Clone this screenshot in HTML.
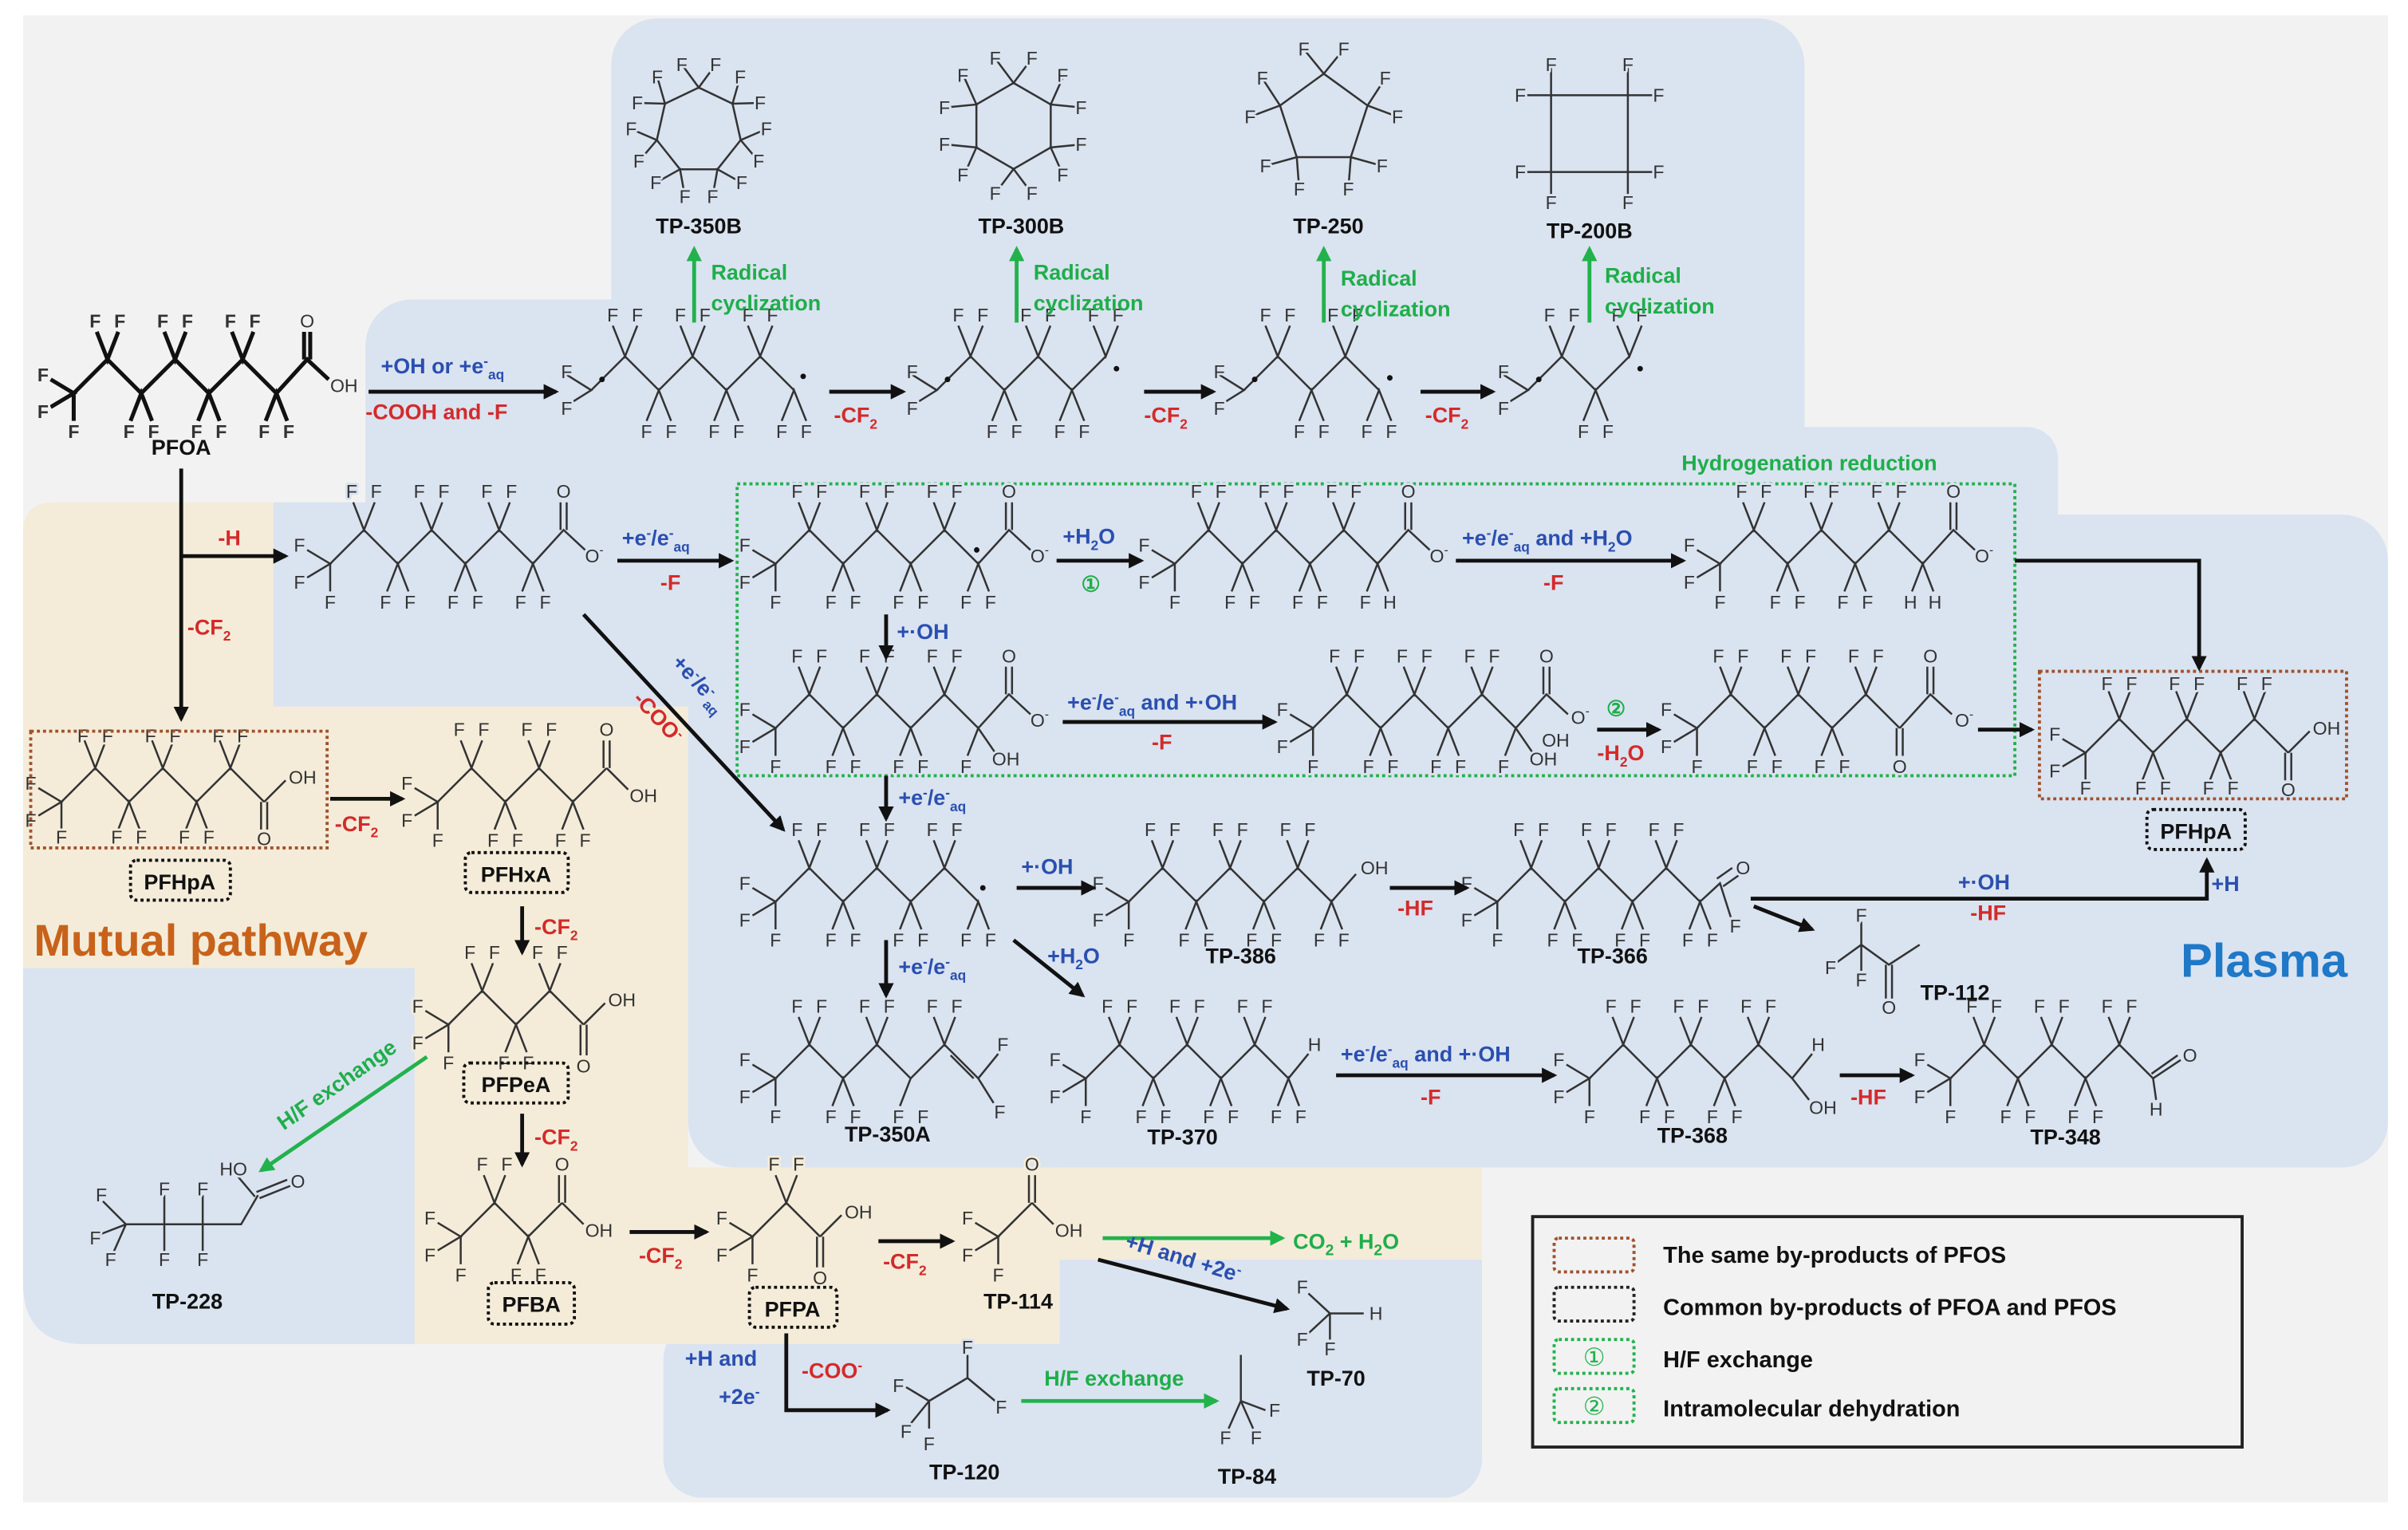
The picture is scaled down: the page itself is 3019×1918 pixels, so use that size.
<!DOCTYPE html>
<html><head><meta charset="utf-8"><style>
html,body{margin:0;padding:0;background:#fff}
svg{display:block}
.m path{fill:none;stroke:#333;stroke-width:1.3}
.m text{font-family:"Liberation Sans",sans-serif;font-size:12px;text-anchor:middle;dominant-baseline:central;fill:#333;paint-order:stroke;stroke-width:3;stroke-linejoin:round}
.bb text{stroke:#dae3f0}.yy text{stroke:#f4ecd9}.gg text{stroke:#f2f2f2}
.lab{font-family:"Liberation Sans",sans-serif;font-weight:bold;font-size:14px;fill:#111;text-anchor:middle}
.t{font-family:"Liberation Sans",sans-serif;font-weight:bold;font-size:14px}
.bl{fill:#2a4fb0}.rd{fill:#d42a2a}.gr{fill:#1fae4a}
.ar{stroke:#111;stroke-width:2.5;fill:none}
.ag{stroke:#22b24c;stroke-width:2.5;fill:none}
.box{fill:none;stroke:#111;stroke-width:2;stroke-dasharray:2 2}
</style></head><body>
<svg width="3019" height="1918" viewBox="0 0 1568 996" preserveAspectRatio="none" xmlns="http://www.w3.org/2000/svg">
<defs>
<marker id="a" viewBox="0 0 10 10" refX="8" refY="5" markerWidth="4" markerHeight="4" orient="auto"><path d="M0,0L10,5L0,10z" fill="#111"/></marker>
<marker id="g" viewBox="0 0 10 10" refX="8" refY="5" markerWidth="4" markerHeight="4" orient="auto"><path d="M0,0L10,5L0,10z" fill="#22b24c"/></marker>
</defs>
<rect x="15" y="10" width="1540" height="968" fill="#f2f2f2"/>
<g fill="#dae3f0">
<rect x="398" y="12" width="777" height="300" rx="30"/>
<rect x="238" y="195" width="937" height="200" rx="30"/>
<rect x="448" y="278" width="892" height="200" rx="20"/>
<rect x="448" y="335" width="1107" height="425" rx="30"/>
<rect x="178" y="327" width="300" height="133"/>
<path d="M15,630H270V875H55Q15,875 15,835Z"/>
<rect x="690" y="815" width="275" height="80"/>
<rect x="432" y="860" width="533" height="115" rx="25"/>
</g>
<g fill="#f4ecd9">
<path d="M35,327H178V460H15V347Q15,327 35,327Z"/>
<rect x="15" y="460" width="433" height="170"/>
<rect x="270" y="460" width="178" height="415"/>
<rect x="270" y="760" width="695" height="60"/>
<rect x="270" y="760" width="420" height="115"/>
</g>

<g class="m gg" transform="translate(48,256)">
<path style="stroke-width:2.6;stroke:#111" d="M0,0L22,-22L44,0L66,-22L88,0L110,-22L132,0M15,-40L22,-22L29,-40M59,-40L66,-22L73,-40M103,-40L110,-22L117,-40M37,18L44,0L51,18M81,18L88,0L95,18M125,18L132,0L139,18M-15,-9L0,0L-15,9M0,0L0,18M132,0L152,-22L166,-9M150,-22L150,-40M154,-22L154,-40"/>
<text x="14 30 58 74 102 118" y="-47" font-weight="bold">FFFFFF</text>
<text x="36 52 80 96 124 140" y="25" font-weight="bold">FFFFFF</text>
<text x="-20 -20 0" y="-12 12 25" font-weight="bold">FFF</text>
<text x="152" y="-47">O</text><text x="176" y="-5">OH</text>
</g>
<text class="lab" x="118" y="296">PFOA</text>

<g class="m bb">
<path d="M385,254L407,232L429,254L451,232L473,254L495,232L517,254M399,212L407,232L415,212M443,212L451,232L459,212M487,212L495,232L503,212M421,274L429,254L437,274M465,274L473,254L481,274M509,274L517,254L525,274M369,244L385,254L369,264"/>
<text x="399 415 443 459 487 503" y="205">FFFFFF</text><text x="421 437 465 481 509 525" y="281">FFFFFF</text><text x="369 369" y="242 266">FF</text>
<path d="M610,254L632,232L654,254L676,232L698,254L720,232M624,212L632,232L640,212M668,212L676,232L684,212M712,212L720,232L728,212M646,274L654,254L662,274M690,274L698,254L706,274M594,244L610,254L594,264"/>
<text x="624 640 668 684 712 728" y="205">FFFFFF</text><text x="646 662 690 706" y="281">FFFF</text><text x="594 594" y="242 266">FF</text>
<path d="M810,254L832,232L854,254L876,232L898,254M824,212L832,232L840,212M868,212L876,232L884,212M846,274L854,254L862,274M890,274L898,254L906,274M794,244L810,254L794,264"/>
<text x="824 840 868 884" y="205">FFFF</text><text x="846 862 890 906" y="281">FFFF</text><text x="794 794" y="242 266">FF</text>
<path d="M995,254L1017,232L1039,254L1061,232M1009,212L1017,232L1025,212M1053,212L1061,232L1069,212M1031,274L1039,254L1047,274M979,244L995,254L979,264"/>
<text x="1009 1025 1053 1069" y="205">FFFF</text><text x="1031 1047" y="281">FF</text><text x="979 979" y="242 266">FF</text>
</g>
<g fill="#111"><circle cx="392" cy="247" r="1.8"/><circle cx="523" cy="245" r="1.8"/><circle cx="617" cy="247" r="1.8"/><circle cx="727" cy="240" r="1.8"/><circle cx="817" cy="247" r="1.8"/><circle cx="905" cy="246" r="1.8"/><circle cx="1002" cy="247" r="1.8"/><circle cx="1068" cy="240" r="1.8"/></g>

<g class="m bb">
<path d="M455,57L477,67.5L482.3,91.2L467.2,110.2L442.8,110.2L427.7,91.2L433,67.5ZM444,42L455,57L466,42M482,50L477,67.5L495,67M499,84L482.3,91.2L494,105M483,119L467.2,110.2L464,128M446,128L442.8,110.2L427,119M416,105L427.7,91.2L411,84M415,67L433,67.5L428,50"/>
<text x="444 466 482 495 499 494 483 464 446 427 416 411 415 428" y="42 42 50 67 84 105 119 128 128 119 105 84 67 50">FFFFFFFFFFFFFF</text>
<path d="M660,54L684.2,68L684.2,96L660,110L635.8,96L635.8,68ZM648,38L660,54L672,38M692.5,49.5L684.2,68L704.4,70M704.4,94L684.2,96L692.5,114.5M672,126L660,110L648,126M627.5,114.5L635.8,96L615.6,94M615.6,70L635.8,68L627.5,49.5"/>
<text x="648 672 692 704 704 692 672 648 627 615 615 627" y="38 38 49 70 94 114 126 126 114 94 70 49">FFFFFFFFFFFF</text>
<path d="M862,48L890.5,68.7L879.6,102.3L844.4,102.3L833.5,68.7ZM849,32L862,48L875,32M902,51L890.5,68.7L910,76M900,108L879.6,102.3L878,123M846,123L844.4,102.3L824,108M814,76L833.5,68.7L822,51"/>
<text x="849 875 902 910 900 878 846 824 814 822" y="32 32 51 76 108 123 123 108 76 51">FFFFFFFFFF</text>
<path d="M1010,62H1060V112H1010ZM990,62H1010V42M1080,62H1060V42M1080,112H1060V132M990,112H1010V132"/>
<text x="990 1010 1080 1060 1080 1060 990 1010" y="62 42 62 42 112 132 112 132">FFFFFFFF</text>
</g>
<text class="lab" x="455" y="152">TP-350B</text><text class="lab" x="665" y="152">TP-300B</text><text class="lab" x="865" y="152">TP-250</text><text class="lab" x="1035" y="155">TP-200B</text>

<g class="ag" marker-end="url(#g)"><path d="M452,210V162"/><path d="M662,210V162"/><path d="M862,210V162"/><path d="M1035,210V162"/></g>
<g class="t gr"><text x="463" y="182">Radical</text><text x="463" y="202">cyclization</text>
<text x="673" y="182">Radical</text><text x="673" y="202">cyclization</text>
<text x="873" y="186">Radical</text><text x="873" y="206">cyclization</text>
<text x="1045" y="184">Radical</text><text x="1045" y="204">cyclization</text></g>

<g class="ar" marker-end="url(#a)"><path d="M240,255H362"/><path d="M540,255H588"/><path d="M745,255H790"/><path d="M925,255H972"/></g>
<text class="t bl" x="248" y="243">+OH or +e<tspan dy="-5" font-size="9">-</tspan><tspan dy="9" font-size="9">aq</tspan></text>
<text class="t rd" x="238" y="273">-COOH and -F</text>
<text class="t rd" x="543" y="275">-CF<tspan dy="4" font-size="9">2</tspan></text>
<text class="t rd" x="745" y="275">-CF<tspan dy="4" font-size="9">2</tspan></text>
<text class="t rd" x="928" y="275">-CF<tspan dy="4" font-size="9">2</tspan></text>

<rect x="480" y="315" width="832" height="190" fill="none" stroke="#22b24c" stroke-width="2" stroke-dasharray="2 2"/>
<text class="t gr" x="1095" y="306">Hydrogenation reduction</text>

<g class="m bb">
<g transform="translate(215,367)"><path d="M0,0L22,-22L44,0L66,-22L88,0L110,-22L132,0M15,-40L22,-22L29,-40M59,-40L66,-22L73,-40M103,-40L110,-22L117,-40M37,18L44,0L51,18M81,18L88,0L95,18M125,18L132,0L139,18M-15,-9L0,0L-15,9M0,0L0,18M132,0L152,-22L166,-9M150,-22L150,-40M154,-22L154,-40"/><text x="14 30 58 74 102 118" y="-47">FFFFFF</text><text x="36 52 80 96 124 140" y="25">FFFFFF</text><text x="-20 -20 0" y="-12 12 25">FFF</text><text x="152" y="-47">O</text><text x="172" y="-5">O<tspan dy="-4" font-size="8">-</tspan></text></g>
<g transform="translate(505,367)"><path d="M0,0L22,-22L44,0L66,-22L88,0L110,-22L132,0M15,-40L22,-22L29,-40M59,-40L66,-22L73,-40M103,-40L110,-22L117,-40M37,18L44,0L51,18M81,18L88,0L95,18M125,18L132,0L139,18M-15,-9L0,0L-15,9M0,0L0,18M132,0L152,-22L166,-9M150,-22L150,-40M154,-22L154,-40"/><text x="14 30 58 74 102 118" y="-47">FFFFFF</text><text x="36 52 80 96 124 140" y="25">FFFFFF</text><text x="-20 -20 0" y="-12 12 25">FFF</text><text x="152" y="-47">O</text><text x="172" y="-5">O<tspan dy="-4" font-size="8">-</tspan></text><circle cx="131" cy="-9" r="1.8" fill="#111"/></g>
<g transform="translate(765,367)"><path d="M0,0L22,-22L44,0L66,-22L88,0L110,-22L132,0M15,-40L22,-22L29,-40M59,-40L66,-22L73,-40M103,-40L110,-22L117,-40M37,18L44,0L51,18M81,18L88,0L95,18M125,18L132,0L139,18M-15,-9L0,0L-15,9M0,0L0,18M132,0L152,-22L166,-9M150,-22L150,-40M154,-22L154,-40"/><text x="14 30 58 74 102 118" y="-47">FFFFFF</text><text x="36 52 80 96 124 140" y="25">FFFFFH</text><text x="-20 -20 0" y="-12 12 25">FFF</text><text x="152" y="-47">O</text><text x="172" y="-5">O<tspan dy="-4" font-size="8">-</tspan></text></g>
<g transform="translate(1120,367)"><path d="M0,0L22,-22L44,0L66,-22L88,0L110,-22L132,0M15,-40L22,-22L29,-40M59,-40L66,-22L73,-40M103,-40L110,-22L117,-40M37,18L44,0L51,18M81,18L88,0L95,18M125,18L132,0L139,18M-15,-9L0,0L-15,9M0,0L0,18M132,0L152,-22L166,-9M150,-22L150,-40M154,-22L154,-40"/><text x="14 30 58 74 102 118" y="-47">FFFFFF</text><text x="36 52 80 96 124 140" y="25">FFFFHH</text><text x="-20 -20 0" y="-12 12 25">FFF</text><text x="152" y="-47">O</text><text x="172" y="-5">O<tspan dy="-4" font-size="8">-</tspan></text></g>
<g transform="translate(505,474)"><path d="M0,0L22,-22L44,0L66,-22L88,0L110,-22L132,0M15,-40L22,-22L29,-40M59,-40L66,-22L73,-40M103,-40L110,-22L117,-40M37,18L44,0L51,18M81,18L88,0L95,18M125,18L132,0L143,16M-15,-9L0,0L-15,9M0,0L0,18M132,0L152,-22L166,-9M150,-22L150,-40M154,-22L154,-40"/><text x="14 30 58 74 102 118" y="-47">FFFFFF</text><text x="36 52 80 96 124" y="25">FFFFF</text><text x="150" y="20">OH</text><text x="-20 -20 0" y="-12 12 25">FFF</text><text x="152" y="-47">O</text><text x="172" y="-5">O<tspan dy="-4" font-size="8">-</tspan></text></g>
<g transform="translate(855,474)"><path d="M0,0L22,-22L44,0L66,-22L88,0L110,-22L132,0M15,-40L22,-22L29,-40M59,-40L66,-22L73,-40M103,-40L110,-22L117,-40M37,18L44,0L51,18M81,18L88,0L95,18M125,18L132,0L143,16M-15,-9L0,0L-15,9M0,0L0,18M132,0L152,-22L166,-9M150,-22L150,-40M154,-22L154,-40"/><text x="14 30 58 74 102 118" y="-47">FFFFFF</text><text x="36 52 80 96 124" y="25">FFFFF</text><text x="150" y="20">OH</text><text x="158" y="8">OH</text><text x="-20 -20 0" y="-12 12 25">FFF</text><text x="152" y="-47">O</text><text x="174" y="-7">O<tspan dy="-4" font-size="8">-</tspan></text></g>
<g transform="translate(1105,474)"><path d="M0,0L22,-22L44,0L66,-22L88,0L110,-22L132,0M15,-40L22,-22L29,-40M59,-40L66,-22L73,-40M103,-40L110,-22L117,-40M37,18L44,0L51,18M81,18L88,0L95,18M130,0L130,18M134,0L134,18M-15,-9L0,0L-15,9M0,0L0,18M132,0L152,-22L166,-9M150,-22L150,-40M154,-22L154,-40"/><text x="14 30 58 74 102 118" y="-47">FFFFFF</text><text x="36 52 80 96" y="25">FFFF</text><text x="132" y="25">O</text><text x="-20 -20 0" y="-12 12 25">FFF</text><text x="152" y="-47">O</text><text x="174" y="-5">O<tspan dy="-4" font-size="8">-</tspan></text></g>
<g transform="translate(1358,490)"><path d="M0,0L22,-22L44,0L66,-22L88,0L110,-22L132,0M15,-40L22,-22L29,-40M59,-40L66,-22L73,-40M103,-40L110,-22L117,-40M37,18L44,0L51,18M81,18L88,0L95,18M-15,-9L0,0L-15,9M0,0L0,18M130,0L130,18M134,0L134,18M132,0L146,-14"/><text x="14 30 58 74 102 118" y="-45">FFFFFF</text><text x="36 52 80 96" y="23">FFFF</text><text x="-20 -20 0" y="-12 12 23">FFF</text><text x="132" y="24">O</text><text x="157" y="-16">OH</text></g>
<g transform="translate(505,587)"><path d="M0,0L22,-22L44,0L66,-22L88,0L110,-22L132,0M15,-40L22,-22L29,-40M59,-40L66,-22L73,-40M103,-40L110,-22L117,-40M37,18L44,0L51,18M81,18L88,0L95,18M125,18L132,0L139,18M-15,-9L0,0L-15,9M0,0L0,18"/><text x="14 30 58 74 102 118" y="-47">FFFFFF</text><text x="36 52 80 96 124 140" y="25">FFFFFF</text><text x="-20 -20 0" y="-12 12 25">FFF</text><circle cx="135" cy="-9" r="1.8" fill="#111"/></g>
<g transform="translate(735,587)"><path d="M0,0L22,-22L44,0L66,-22L88,0L110,-22L132,0M15,-40L22,-22L29,-40M59,-40L66,-22L73,-40M103,-40L110,-22L117,-40M37,18L44,0L51,18M81,18L88,0L95,18M125,18L132,0L139,18M-15,-9L0,0L-15,9M0,0L0,18M132,0L148,-18"/><text x="14 30 58 74 102 118" y="-47">FFFFFF</text><text x="36 52 80 96 124 140" y="25">FFFFFF</text><text x="-20 -20 0" y="-12 12 25">FFF</text><text x="160" y="-22">OH</text></g>
<g transform="translate(975,587)"><path d="M0,0L22,-22L44,0L66,-22L88,0L110,-22L132,0M15,-40L22,-22L29,-40M59,-40L66,-22L73,-40M103,-40L110,-22L117,-40M37,18L44,0L51,18M81,18L88,0L95,18M125,18L132,0L139,18M-15,-9L0,0L-15,9M0,0L0,18M132,0L145,-12L152,10M143,-15L153,-22M147,-10L157,-17"/><text x="14 30 58 74 102 118" y="-47">FFFFFF</text><text x="36 52 80 96 124 140" y="25">FFFFFF</text><text x="-20 -20 0" y="-12 12 25">FFF</text><text x="160" y="-22">O</text><text x="155" y="16">F</text></g>
<path d="M1212,615L1212,600M1212,615L1194,628M1212,615L1212,632M1212,615L1230,628L1250,615M1228,628L1228,650M1232,628L1232,650"/>
<text x="1212 1192 1212" y="596 630 638">FFF</text><text x="1230" y="656">O</text>
<g transform="translate(505,702)"><path d="M0,0L22,-22L44,0L66,-22L88,0L110,-22L132,0M114,-15L129,0M15,-40L22,-22L29,-40M59,-40L66,-22L73,-40M103,-40L110,-22L117,-40M37,18L44,0L51,18M81,18L88,0M-15,-9L0,0L-15,9M0,0L0,18M132,0L145,-16M132,0L142,16"/><text x="14 30 58 74 102 118" y="-47">FFFFFF</text><text x="36 52 80 96" y="25">FFFF</text><text x="-20 -20 0" y="-12 12 25">FFF</text><text x="148 146" y="-22 22">FF</text></g>
<g transform="translate(707,702)"><path d="M0,0L22,-22L44,0L66,-22L88,0L110,-22L132,0M15,-40L22,-22L29,-40M59,-40L66,-22L73,-40M103,-40L110,-22L117,-40M37,18L44,0L51,18M81,18L88,0L95,18M125,18L132,0L139,18M-15,-9L0,0L-15,9M0,0L0,18M132,0L145,-16"/><text x="14 30 58 74 102 118" y="-47">FFFFFF</text><text x="36 52 80 96 124 140" y="25">FFFFFF</text><text x="-20 -20 0" y="-12 12 25">FFF</text><text x="149" y="-22">H</text></g>
<g transform="translate(1035,702)"><path d="M0,0L22,-22L44,0L66,-22L88,0L110,-22L132,0M15,-40L22,-22L29,-40M59,-40L66,-22L73,-40M103,-40L110,-22L117,-40M37,18L44,0L51,18M81,18L88,0L95,18M-15,-9L0,0L-15,9M0,0L0,18M132,0L145,-16M132,0L143,14"/><text x="14 30 58 74 102 118" y="-47">FFFFFF</text><text x="36 52 80 96" y="25">FFFF</text><text x="-20 -20 0" y="-12 12 25">FFF</text><text x="149" y="-22">H</text><text x="152" y="19">OH</text></g>
<g transform="translate(1270,702)"><path d="M0,0L22,-22L44,0L66,-22L88,0L110,-22L132,0M15,-40L22,-22L29,-40M59,-40L66,-22L73,-40M103,-40L110,-22L117,-40M37,18L44,0L51,18M81,18L88,0L95,18M-15,-9L0,0L-15,9M0,0L0,18M132,0L150,-12M131,-3L148,-15M132,0L134,14"/><text x="14 30 58 74 102 118" y="-47">FFFFFF</text><text x="36 52 80 96" y="25">FFFF</text><text x="-20 -20 0" y="-12 12 25">FFF</text><text x="156" y="-15">O</text><text x="134" y="20">H</text></g>
<path d="M866,855L852,842M866,855L888,855M866,855L852,868M866,855L866,872"/>
<text x="848 896 848 866" y="838 855 872 878">FHFF</text>
<path d="M605,912L590,903M605,912L592,928M605,912L605,930M605,912L630,897L630,882M630,897L648,912"/>
<text x="585 590 605 630 652" y="902 932 940 877 916">FFFFF</text>
<path d="M808,912L808,882M808,912L824,918M808,912L800,930M808,912L816,930"/>
<text x="830 798 818" y="918 936 936">FFF</text>
<path d="M82,797L67,782M82,797L64,804M82,797L74,815M82,797L107,797L132,797L157,797L168,778M107,797V778M107,797V815M132,797V778M132,797V815M166,779L155,766M167,776L187,768M169,780L189,772"/>
<text x="66 62 72 107 107 132 132" y="778 806 820 774 820 774 820">FFFFFFF</text><text x="152" y="761">HO</text><text x="194" y="769">O</text>
</g>

<g class="m yy">
<g transform="translate(40,522)"><path d="M0,0L22,-22L44,0L66,-22L88,0L110,-22L132,0M15,-40L22,-22L29,-40M59,-40L66,-22L73,-40M103,-40L110,-22L117,-40M37,18L44,0L51,18M81,18L88,0L95,18M-15,-9L0,0L-15,9M0,0L0,18M130,0L130,18M134,0L134,18M132,0L146,-14"/><text x="14 30 58 74 102 118" y="-43">FFFFFF</text><text x="36 52 80 96" y="23">FFFF</text><text x="-20 -20 0" y="-12 12 23">FFF</text><text x="132" y="24">O</text><text x="157" y="-16">OH</text></g>
<g transform="translate(285,522)"><path d="M0,0L22,-22L44,0L66,-22L88,0L110,-22M15,-40L22,-22L29,-40M59,-40L66,-22L73,-40M37,18L44,0L51,18M81,18L88,0L95,18M-15,-9L0,0L-15,9M0,0L0,18M108,-22L108,-40M112,-22L112,-40M110,-22L124,-8"/><text x="14 30 58 74" y="-47">FFFF</text><text x="36 52 80 96" y="25">FFFF</text><text x="-20 -20 0" y="-12 12 25">FFF</text><text x="110" y="-47">O</text><text x="134" y="-4">OH</text></g>
<g transform="translate(292,667)"><path d="M0,0L22,-22L44,0L66,-22L88,0M15,-40L22,-22L29,-40M59,-40L66,-22L73,-40M37,18L44,0L51,18M-15,-9L0,0L-15,9M0,0L0,18M86,0L86,20M90,0L90,20M88,0L102,-14"/><text x="14 30 58 74" y="-47">FFFF</text><text x="36 52" y="25">FF</text><text x="-20 -20 0" y="-12 12 25">FFF</text><text x="88" y="27">O</text><text x="113" y="-16">OH</text></g>
<g transform="translate(300,805)"><path d="M0,0L22,-22L44,0L66,-22M15,-40L22,-22L29,-40M37,18L44,0L51,18M-15,-9L0,0L-15,9M0,0L0,18M64,-22L64,-40M68,-22L68,-40M66,-22L80,-8"/><text x="14 30" y="-47">FF</text><text x="36 52" y="25">FF</text><text x="-20 -20 0" y="-12 12 25">FFF</text><text x="66" y="-47">O</text><text x="90" y="-4">OH</text></g>
<g transform="translate(490,805)"><path d="M0,0L22,-22L44,0M15,-40L22,-22L29,-40M-15,-9L0,0L-15,9M0,0L0,18M42,0L42,20M46,0L46,20M44,0L58,-14"/><text x="14 30" y="-47">FF</text><text x="-20 -20 0" y="-12 12 25">FFF</text><text x="44" y="27">O</text><text x="69" y="-16">OH</text></g>
<g transform="translate(650,805)"><path d="M0,0L22,-22M-15,-9L0,0L-15,9M0,0L0,18M20,-22L20,-40M24,-22L24,-40M22,-22L36,-8"/><text x="-20 -20 0" y="-12 12 25">FFF</text><text x="22" y="-47">O</text><text x="46" y="-4">OH</text></g>
</g>

<rect x="1328" y="437" width="200" height="83" fill="none" stroke="#a0522d" stroke-width="2" stroke-dasharray="2 2"/>
<rect x="20" y="476" width="193" height="76" fill="none" stroke="#a0522d" stroke-width="2" stroke-dasharray="2 2"/>
<rect class="box" x="1398" y="527" width="64" height="26" rx="4"/><text class="lab" x="1430" y="546">PFHpA</text>
<rect class="box" x="85" y="560" width="65" height="26" rx="4"/><text class="lab" x="117" y="579">PFHpA</text>
<rect class="box" x="303" y="555" width="67" height="26" rx="4"/><text class="lab" x="336" y="574">PFHxA</text>
<rect class="box" x="302" y="692" width="68" height="26" rx="4"/><text class="lab" x="336" y="711">PFPeA</text>
<rect class="box" x="318" y="835" width="56" height="27" rx="4"/><text class="lab" x="346" y="854">PFBA</text>
<rect class="box" x="488" y="838" width="57" height="26" rx="4"/><text class="lab" x="516" y="857">PFPA</text>

<g class="lab"><text x="808" y="627">TP-386</text><text x="1050" y="627">TP-366</text><text x="1273" y="651">TP-112</text><text x="578" y="743">TP-350A</text><text x="770" y="745">TP-370</text><text x="1102" y="744">TP-368</text><text x="1345" y="745">TP-348</text><text x="122" y="852">TP-228</text><text x="663" y="852">TP-114</text><text x="870" y="902">TP-70</text><text x="628" y="963">TP-120</text><text x="812" y="966">TP-84</text></g>

<g class="ar">
<path d="M118,305V468" marker-end="url(#a)"/>
<path d="M118,362H186" marker-end="url(#a)"/>
<path d="M402,365H476" marker-end="url(#a)"/>
<path d="M688,365H743" marker-end="url(#a)"/>
<path d="M948,365H1096" marker-end="url(#a)"/>
<path d="M1312,365H1432V435" marker-end="url(#a)"/>
<path d="M577,400V428" marker-end="url(#a)"/>
<path d="M692,470H830" marker-end="url(#a)"/>
<path d="M1040,475H1080" marker-end="url(#a)"/>
<path d="M1288,475H1323" marker-end="url(#a)"/>
<path d="M577,505V533" marker-end="url(#a)"/>
<path d="M380,400L510,540" marker-end="url(#a)"/>
<path d="M662,578H712" marker-end="url(#a)"/>
<path d="M905,578H955" marker-end="url(#a)"/>
<path d="M1140,585H1437V560" marker-end="url(#a)"/>
<path d="M1142,590L1180,605" marker-end="url(#a)"/>
<path d="M577,612V648" marker-end="url(#a)"/>
<path d="M660,612L705,648" marker-end="url(#a)"/>
<path d="M870,700H1012" marker-end="url(#a)"/>
<path d="M1198,700H1245" marker-end="url(#a)"/>
<path d="M215,520H262" marker-end="url(#a)"/>
<path d="M340,590V620" marker-end="url(#a)"/>
<path d="M340,725V758" marker-end="url(#a)"/>
<path d="M410,802H460" marker-end="url(#a)"/>
<path d="M572,808H620" marker-end="url(#a)"/>
<path d="M715,820L838,852" marker-end="url(#a)"/>
<path d="M512,868V918H578" marker-end="url(#a)"/>
</g>
<g class="ag" marker-end="url(#g)"><path d="M718,806H835"/><path d="M665,912H792"/><path d="M278,688L170,762"/></g>

<text class="t rd" x="142" y="355">-H</text>
<text class="t rd" x="122" y="413">-CF<tspan dy="4" font-size="9">2</tspan></text>
<text class="t bl" x="405" y="355">+e<tspan dy="-5" font-size="9">-</tspan><tspan dy="5">/e</tspan><tspan dy="-5" font-size="9">-</tspan><tspan dy="9" font-size="9">aq</tspan></text>
<text class="t rd" x="430" y="384">-F</text>
<text class="t bl" x="692" y="354">+H<tspan dy="4" font-size="9">2</tspan><tspan dy="-4">O</tspan></text>
<text class="t gr" x="704" y="385" font-weight="normal" font-size="16">①</text>
<text class="t bl" x="952" y="355">+e<tspan dy="-5" font-size="9">-</tspan><tspan dy="5">/e</tspan><tspan dy="-5" font-size="9">-</tspan><tspan dy="9" font-size="9">aq</tspan><tspan dy="-4"> and +H</tspan><tspan dy="4" font-size="9">2</tspan><tspan dy="-4">O</tspan></text>
<text class="t rd" x="1005" y="384">-F</text>
<text class="t bl" x="584" y="416">+·OH</text>
<text class="t bl" x="695" y="462">+e<tspan dy="-5" font-size="9">-</tspan><tspan dy="5">/e</tspan><tspan dy="-5" font-size="9">-</tspan><tspan dy="9" font-size="9">aq</tspan><tspan dy="-4"> and +·OH</tspan></text>
<text class="t rd" x="750" y="488">-F</text>
<text class="t gr" x="1046" y="466" font-weight="normal" font-size="16">②</text>
<text class="t rd" x="1040" y="495">-H<tspan dy="4" font-size="9">2</tspan><tspan dy="-4">O</tspan></text>
<text class="t bl" x="585" y="524">+e<tspan dy="-5" font-size="9">-</tspan><tspan dy="5">/e</tspan><tspan dy="-5" font-size="9">-</tspan><tspan dy="9" font-size="9">aq</tspan></text>
<text class="t bl" transform="translate(452,448) rotate(47)" text-anchor="middle">+e<tspan dy="-5" font-size="9">-</tspan><tspan dy="5">/e</tspan><tspan dy="-5" font-size="9">-</tspan><tspan dy="9" font-size="9">aq</tspan></text>
<text class="t rd" transform="translate(425,470) rotate(47)" text-anchor="middle">-COO<tspan dy="-5" font-size="9">-</tspan></text>
<text class="t bl" x="665" y="569">+·OH</text>
<text class="t rd" x="910" y="596">-HF</text>
<text class="t bl" x="1275" y="579">+·OH</text>
<text class="t rd" x="1283" y="599">-HF</text>
<text class="t bl" x="1440" y="580">+H</text>
<text class="t bl" x="585" y="634">+e<tspan dy="-5" font-size="9">-</tspan><tspan dy="5">/e</tspan><tspan dy="-5" font-size="9">-</tspan><tspan dy="9" font-size="9">aq</tspan></text>
<text class="t bl" x="682" y="627">+H<tspan dy="4" font-size="9">2</tspan><tspan dy="-4">O</tspan></text>
<text class="t bl" x="873" y="691">+e<tspan dy="-5" font-size="9">-</tspan><tspan dy="5">/e</tspan><tspan dy="-5" font-size="9">-</tspan><tspan dy="9" font-size="9">aq</tspan><tspan dy="-4"> and +·OH</tspan></text>
<text class="t rd" x="925" y="719">-F</text>
<text class="t rd" x="1205" y="719">-HF</text>
<text class="t rd" x="218" y="541">-CF<tspan dy="4" font-size="9">2</tspan></text>
<text class="t rd" x="348" y="608">-CF<tspan dy="4" font-size="9">2</tspan></text>
<text class="t rd" x="348" y="745">-CF<tspan dy="4" font-size="9">2</tspan></text>
<text class="t rd" x="416" y="822">-CF<tspan dy="4" font-size="9">2</tspan></text>
<text class="t rd" x="575" y="826">-CF<tspan dy="4" font-size="9">2</tspan></text>
<text class="t gr" x="842" y="813" font-size="16">CO<tspan dy="4" font-size="10">2</tspan><tspan dy="-4"> + H</tspan><tspan dy="4" font-size="10">2</tspan><tspan dy="-4">O</tspan></text>
<text class="t bl" transform="translate(732,812) rotate(17)">+H and +2e<tspan dy="-5" font-size="9">-</tspan></text>
<text class="t bl" x="446" y="889">+H and</text>
<text class="t bl" x="468" y="914">+2e<tspan dy="-5" font-size="9">-</tspan></text>
<text class="t rd" x="522" y="897">-COO<tspan dy="-5" font-size="9">-</tspan></text>
<text class="t gr" x="680" y="902">H/F exchange</text>
<text class="t gr" transform="translate(222,710) rotate(-35)" text-anchor="middle">H/F exchange</text>

<text x="22" y="622" style="font-family:'Liberation Sans',sans-serif;font-weight:bold;font-size:29px;fill:#c8621a">Mutual pathway</text>
<text x="1420" y="636" style="font-family:'Liberation Sans',sans-serif;font-weight:bold;font-size:31px;fill:#1f78c8">Plasma</text>

<rect x="998" y="792" width="462" height="150" fill="#f2f2f2" stroke="#222" stroke-width="2"/>
<rect x="1012" y="806" width="52" height="22" rx="3" fill="none" stroke="#a0522d" stroke-width="2" stroke-dasharray="2 2"/>
<rect x="1012" y="838" width="52" height="22" rx="3" fill="none" stroke="#222" stroke-width="2" stroke-dasharray="2 2"/>
<rect x="1012" y="872" width="52" height="22" rx="3" fill="none" stroke="#22b24c" stroke-width="2" stroke-dasharray="2 2"/>
<rect x="1012" y="904" width="52" height="22" rx="3" fill="none" stroke="#22b24c" stroke-width="2" stroke-dasharray="2 2"/>
<text x="1038" y="889" text-anchor="middle" style="font-family:'Liberation Sans',sans-serif;font-size:16px;fill:#22b24c">①</text>
<text x="1038" y="921" text-anchor="middle" style="font-family:'Liberation Sans',sans-serif;font-size:16px;fill:#22b24c">②</text>
<g style="font-family:'Liberation Sans',sans-serif;font-weight:bold;font-size:15px;fill:#111">
<text x="1083" y="822">The same by-products of PFOS</text>
<text x="1083" y="856">Common by-products of PFOA and PFOS</text>
<text x="1083" y="890">H/F exchange</text>
<text x="1083" y="922">Intramolecular dehydration</text>
</g>
</svg>
</body></html>
